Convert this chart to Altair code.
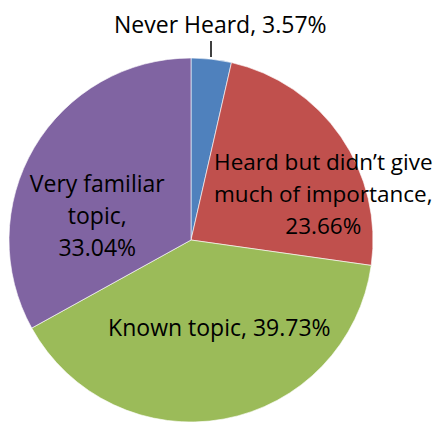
import altair as alt
import pandas as pd

categories = ["Never Heard", "Heard but didn’t give much of importance", "Known topic", "Very familiar topic"]
values = [3.57, 23.66, 39.73, 33.04]
labels = [
    "Never Heard, 3.57%",
    "Heard but didn’t give\nmuch of importance,\n23.66%",
    "Known topic, 39.73%",
    "Very familiar\ntopic,\n33.04%",
]
colors = ["#4F81BD", "#C0504D", "#9BBB59", "#8064A2"]

df = pd.DataFrame({
    "category": categories,
    "value": values,
    "label": labels,
    "idx": list(range(len(categories))),
})

FONT = "Open Sans"

base = alt.Chart(df)

pie = base.mark_arc(stroke="#ffffff", strokeWidth=1, strokeOpacity=0.6).encode(
    theta=alt.Theta("value:Q", stack=True),
    color=alt.Color("category:N", scale=alt.Scale(domain=categories, range=colors), legend=None),
    order=alt.Order("idx:Q"),
)

# label placement per slice: (radius, dx, dy, fontSize)
placement = {
    "Never Heard": (217, 5, 2, 23),
    "Heard but didn’t give much of importance": (140, 17, 2, 22.5),
    "Known topic": (90, 12, 0, 23),
    "Very familiar topic": (110, 1, 1, 23),
}

layers = [pie]
for cat in categories:
    r, dx, dy, fs = placement[cat]
    layers.append(
        base.mark_text(font=FONT, fontSize=fs, color="#000000", lineBreak="\n",
                       lineHeight=32, align="center", baseline="middle", dx=dx, dy=dy).encode(
            theta=alt.Theta("value:Q", stack=True),
            order=alt.Order("idx:Q"),
            radius=alt.value(r),
            text=alt.condition(alt.datum.category == cat, alt.Text("label:N"), alt.value("")),
        )
    )

leader = alt.Chart(pd.DataFrame({"a": [0]})).mark_rule(color="#000000", strokeWidth=1.5).encode(
    x=alt.value(203), y=alt.value(-17), y2=alt.value(-1)
)
layers.append(leader)

chart = alt.layer(*layers).properties(
    width=366,
    height=364,
    padding={"left": 0, "top": 50, "right": 60, "bottom": 0},
    autosize=alt.AutoSizeParams(type="none"),
    background="#ffffff",
).configure_view(stroke=None)

chart.save("out.html", embed_options={"renderer": "svg", "actions": False})
